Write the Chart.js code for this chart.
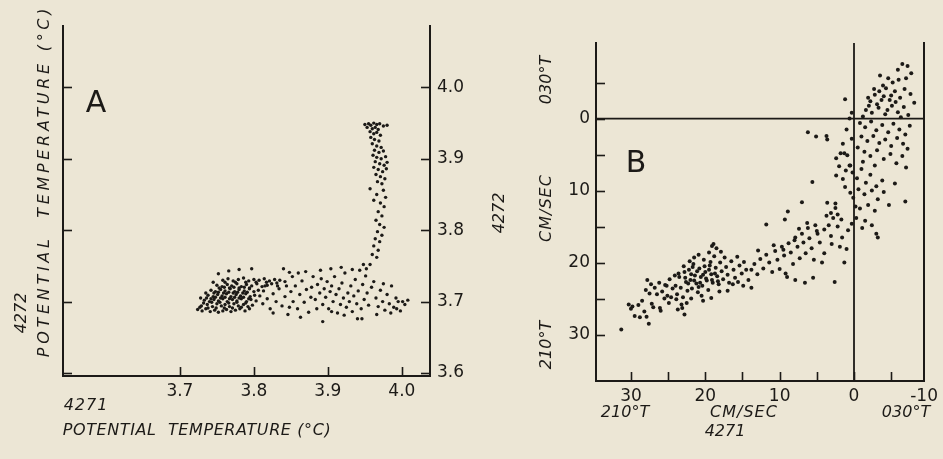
<!DOCTYPE html>
<html>
<head>
<meta charset="utf-8">
<script src="https://cdn.jsdelivr.net/npm/chart.js@4.4.0/dist/chart.umd.min.js"></script>
<style>
  html, body { margin: 0; padding: 0; }
  body { width: 943px; height: 459px; background: #ece6d5; position: relative; overflow: hidden;
         font-family: "DejaVu Sans", sans-serif; color: #1c1a17; }
  canvas { position: absolute; top: 0; }
  .t { position: absolute; white-space: nowrap; font-style: italic; font-size: 16px;
       transform: translate(-50%, -50%); }
  .r { transform: translate(-50%, -50%) rotate(-90deg); }
  .big { font-style: normal; font-size: 30px; }
</style>
</head>
<body>
<canvas id="chartA" width="480" height="459" style="left:0"></canvas>
<canvas id="chartB" width="463" height="459" style="left:480px"></canvas>

<div class="t big" style="left:96px;top:101px">A</div>
<div class="t r" style="left:20px;top:313px">4272</div>
<div class="t r" style="left:43px;top:181px;letter-spacing:3.7px">POTENTIAL&nbsp; TEMPERATURE (°C)</div>
<div class="t" style="left:86px;top:404px;letter-spacing:1px">4271</div>
<div class="t" style="left:197px;top:429px;letter-spacing:0.6px">POTENTIAL&nbsp; TEMPERATURE (°C)</div>

<div class="t big" style="left:636px;top:161px">B</div>
<div class="t r" style="left:498px;top:213px">4272</div>
<div class="t r" style="left:545px;top:345px">210°T</div>
<div class="t r" style="left:545px;top:208px;letter-spacing:1px">CM/SEC</div>
<div class="t r" style="left:545px;top:80px">030°T</div>
<div class="t" style="left:625px;top:411px">210°T</div>
<div class="t" style="left:744px;top:411px;letter-spacing:1px">CM/SEC</div>
<div class="t" style="left:906px;top:411px">030°T</div>
<div class="t" style="left:725px;top:430px">4271</div>

<script>
// panel A : potential temperature 4271 (x) vs 4272 (y), deg C
const aBand = [
  [3.724,3.689],[3.730,3.687],[3.735,3.690],[3.741,3.686],[3.747,3.688],[3.752,3.685],[3.758,3.687],[3.763,3.689],[3.769,3.686],[3.775,3.688],[3.781,3.690],[3.788,3.687],
  [3.729,3.694],[3.737,3.696],[3.744,3.693],[3.750,3.697],[3.756,3.694],[3.761,3.696],[3.767,3.693],[3.773,3.697],[3.779,3.694],[3.786,3.696],[3.792,3.693],[3.798,3.695],
  [3.733,3.702],[3.740,3.700],[3.746,3.703],[3.752,3.701],[3.758,3.704],[3.764,3.700],[3.771,3.703],[3.777,3.701],[3.783,3.704],[3.790,3.700],[3.796,3.703],[3.803,3.701],
  [3.738,3.709],[3.745,3.707],[3.751,3.710],[3.757,3.708],[3.763,3.711],[3.769,3.707],[3.776,3.710],[3.782,3.708],[3.789,3.711],[3.795,3.707],[3.801,3.709],[3.808,3.708],
  [3.742,3.716],[3.748,3.714],[3.755,3.717],[3.761,3.715],[3.768,3.718],[3.774,3.714],[3.780,3.717],[3.787,3.715],[3.794,3.718],[3.800,3.714],[3.806,3.716],[3.813,3.715],
  [3.750,3.723],[3.757,3.721],[3.764,3.724],[3.770,3.722],[3.777,3.725],[3.783,3.721],[3.790,3.724],[3.797,3.722],[3.804,3.725],[3.811,3.721],[3.818,3.723],
  [3.758,3.730],[3.765,3.732],[3.772,3.729],[3.779,3.731],[3.786,3.733],[3.793,3.729],[3.800,3.731],[3.807,3.730],[3.814,3.732],[3.821,3.729],[3.828,3.731],[3.835,3.730],[3.842,3.728],
  [3.752,3.739],[3.766,3.743],[3.780,3.745],[3.797,3.746],[3.840,3.746],[3.848,3.741],[3.745,3.727],[3.735,3.712],[3.728,3.705],
  [3.812,3.697],[3.818,3.704],[3.822,3.690],[3.826,3.711],[3.830,3.700],[3.834,3.718],[3.838,3.694],[3.842,3.707],[3.846,3.682],[3.850,3.714],
  [3.853,3.700],[3.856,3.722],[3.859,3.690],[3.862,3.710],[3.865,3.729],[3.868,3.699],[3.871,3.717],[3.874,3.685],[3.877,3.706],[3.880,3.735],
  [3.815,3.722],[3.824,3.725],[3.832,3.722],[3.844,3.722],[3.852,3.735],[3.860,3.740],[3.870,3.742],[3.826,3.684],[3.848,3.692],[3.863,3.678],[3.878,3.720],
  [3.883,3.703],[3.886,3.724],[3.889,3.712],[3.891,3.732],[3.893,3.696],[3.895,3.718],[3.897,3.706],[3.899,3.728],[3.901,3.690],[3.903,3.714],
  [3.905,3.722],[3.907,3.700],[3.909,3.735],[3.911,3.710],[3.913,3.684],[3.915,3.718],[3.917,3.696],[3.919,3.726],[3.921,3.705],[3.923,3.740],
  [3.925,3.692],[3.927,3.712],[3.929,3.700],[3.931,3.722],[3.933,3.686],[3.935,3.708],[3.937,3.731],[3.939,3.697],[3.941,3.715],[3.943,3.744],
  [3.945,3.690],[3.947,3.724],[3.949,3.703],[3.951,3.736],[3.953,3.712],[3.955,3.695],[3.957,3.752],[3.959,3.720],
  [3.890,3.744],[3.904,3.746],[3.918,3.748],[3.933,3.745],[3.948,3.752],[3.952,3.746],[3.893,3.672],[3.940,3.676],[3.946,3.676],[3.905,3.686],[3.922,3.681],[3.885,3.690],
  [3.962,3.728],[3.965,3.705],[3.968,3.693],[3.971,3.716],[3.974,3.700],[3.977,3.688],[3.980,3.710],[3.983,3.697],[3.986,3.722],[3.989,3.692],
  [3.992,3.705],[3.995,3.700],[3.998,3.687],[4.001,3.700],[4.004,3.696],[4.008,3.702],[3.985,3.684],[3.993,3.690],[3.966,3.682],[3.975,3.725]
];
// the near-solid left end of the band
const aBandDense = [
  [3.727,3.692],[3.732,3.698],[3.738,3.691],[3.743,3.699],[3.749,3.691],[3.754,3.699],[3.760,3.691],[3.766,3.698],[3.771,3.691],[3.777,3.699],[3.783,3.692],[3.789,3.698],[3.794,3.690],
  [3.736,3.705],[3.742,3.704],[3.748,3.706],[3.755,3.705],[3.761,3.706],[3.767,3.704],[3.774,3.706],[3.780,3.705],[3.786,3.706],[3.793,3.704],
  [3.746,3.712],[3.752,3.713],[3.759,3.712],[3.766,3.713],[3.772,3.712],[3.778,3.713],[3.785,3.712],[3.791,3.713],
  [3.753,3.719],[3.760,3.720],[3.767,3.719],[3.773,3.720],[3.780,3.719],[3.787,3.720],[3.794,3.719],
  [3.761,3.727],[3.775,3.727],[3.789,3.727],[3.803,3.727],[3.817,3.727],[3.831,3.726]
];
const aColumn = [
  [3.950,3.948],[3.955,3.949],[3.958,3.947],[3.962,3.950],[3.966,3.948],[3.970,3.949],[3.975,3.946],[3.980,3.947],
  [3.953,3.944],[3.960,3.942],[3.964,3.944],[3.968,3.941],[3.957,3.938],[3.962,3.935],[3.966,3.937],[3.971,3.933],
  [3.958,3.930],[3.963,3.927],[3.969,3.925],[3.960,3.921],[3.966,3.918],[3.972,3.916],[3.963,3.912],[3.969,3.909],[3.975,3.911],
  [3.961,3.905],[3.966,3.902],[3.972,3.900],[3.978,3.903],[3.964,3.896],[3.970,3.893],[3.976,3.891],[3.980,3.895],
  [3.962,3.888],[3.968,3.885],[3.974,3.882],[3.979,3.886],[3.965,3.878],[3.971,3.875],[3.977,3.872],[3.967,3.868],[3.973,3.865],
  [3.957,3.858],[3.975,3.856],[3.966,3.850],[3.978,3.846],[3.962,3.842],[3.971,3.838],[3.976,3.833],[3.968,3.826],[3.973,3.820],
  [3.965,3.814],[3.970,3.808],[3.976,3.804],[3.967,3.798],[3.973,3.793],[3.964,3.788],[3.970,3.784],[3.962,3.778],[3.968,3.772],
  [3.960,3.766],[3.966,3.762]
];
const aTicks = [3.6, 3.7, 3.8, 3.9, 4.0];
const aXLabels = [3.7, 3.8, 3.9, 4.0];

// panel B : current speed 4271 (x) vs 4272 (y), cm/sec
const bSouthwest = [
  [31.3,29.3],[30.3,25.8],[29.8,26.1],[29.0,25.9],[30.0,26.4],[29.5,27.4],[28.8,27.6],[28.5,25.3],[28.2,26.8],[27.9,27.5],
  [27.6,28.5],[27.5,24.3],[27.2,25.7],[27.0,26.2],[27.8,22.4],[27.3,23.0],[26.8,23.5],[26.5,24.4],[26.2,22.8],[25.8,24.0],
  [25.4,23.1],[25.1,24.6],[24.8,22.3],[24.4,23.6],[24.1,21.8],[26.0,26.7],[25.5,25.0],[28.0,23.8],[23.7,26.5],[22.8,27.2],
  [23.2,25.8],[26.1,26.3],
  [24.0,23.2],[23.8,24.4],[23.5,22.0],[23.3,23.5],[23.0,24.8],[22.8,21.3],[22.6,22.7],[22.4,23.9],[22.2,21.0],[22.0,22.4],
  [21.8,23.6],[21.6,20.2],[21.4,21.8],[21.2,22.9],[21.0,24.1],[20.8,20.8],[20.6,22.0],[20.4,23.2],[20.2,19.6],[20.0,21.3],
  [19.8,22.5],[19.6,23.8],[19.4,20.4],[19.2,21.6],[19.0,22.8],[18.8,19.1],[18.6,20.7],[18.4,21.9],[18.2,23.0],[18.0,20.0],
  [17.8,21.2],[17.6,22.3],[17.4,19.3],[17.2,20.6],[17.0,21.7],[16.8,22.8],[16.5,19.8],[16.2,21.0],[16.0,22.1],[15.7,19.2],
  [15.4,20.4],[15.1,21.5],[14.8,19.9],[14.5,21.0],[14.2,22.4],
  [23.6,21.5],[22.9,20.5],[22.1,19.8],[21.5,19.3],[20.9,18.9],[19.5,18.6],[18.9,17.4],[18.5,18.0],[17.9,18.5],[19.1,17.7],
  [21.9,25.0],[20.5,24.6],[19.2,24.9],[23.1,26.3],[22.5,25.6],[20.3,25.3],[18.1,24.0],[17.0,23.9],[16.3,23.0],[15.6,22.7],
  [14.9,23.2],[13.8,23.5],[24.6,24.8],[24.9,25.6],[25.2,23.2],[23.9,25.1],
  [22.7,22.1],[22.3,22.9],[21.9,21.6],[21.5,22.5],[21.1,21.2],[20.7,22.8],[20.3,21.7],[19.9,22.2],[19.5,21.0],[19.1,22.4],
  [18.7,21.5],[18.3,22.6],[20.1,20.5],[20.9,23.4],[21.7,20.6],[19.3,19.9]
];
const bMiddle = [
  [13.8,21.0],[13.4,20.2],[13.0,21.6],[12.6,19.5],[12.2,20.8],[11.8,18.9],[11.8,14.7],[11.4,20.0],[11.0,21.3],[10.6,18.4],
  [10.3,19.6],[10.0,20.9],[9.7,17.8],[9.4,19.0],[9.2,21.5],[9.0,22.0],[8.8,17.3],[8.5,18.6],[8.2,20.2],[7.9,16.5],
  [7.6,17.8],[7.3,19.4],[7.0,16.0],[6.8,17.2],[6.5,18.7],[6.2,15.2],[6.0,16.6],[5.7,18.0],[5.4,19.6],[5.2,14.8],
  [4.9,16.0],[4.6,17.2],[4.3,20.0],[4.0,15.4],[3.7,13.5],[3.4,14.8],[3.1,16.3],[2.8,13.8],[2.5,12.4],[2.2,15.0],
  [1.9,17.8],[1.6,16.5],[1.3,20.0],[2.6,22.7],[6.6,22.8],[5.5,22.1],[7.9,22.4],[9.3,14.0],[7.0,11.6],[8.9,12.9],
  [3.6,11.7],[2.5,11.8],[3.1,13.1],[2.2,13.3],[1.7,14.0],[9.5,18.2],[10.8,17.6],[12.9,18.3],[4.0,18.7],[5.0,15.6],
  [6.3,14.5],[7.4,15.3],[8.0,16.9],[3.0,17.4],[1.0,18.1],[0.8,15.5],[5.6,8.8]
];
const bNortheast = [
  [-3.5,-6.0],[-5.9,-6.8],[-7.2,-7.3],[-7.7,-6.3],[-6.5,-7.6],[-5.2,-5.0],[-4.6,-5.6],[-3.9,-4.6],[-2.8,-3.3],[-2.2,-2.4],
  [-3.1,-2.0],[-4.0,-3.1],[-4.8,-2.6],[-5.5,-3.8],[-6.2,-2.9],[-6.8,-4.1],[-7.6,-3.4],[-8.1,-2.2],[-1.6,-1.2],[-2.4,-0.8],
  [-3.3,-1.5],[-4.2,-0.6],[-5.1,-1.8],[-5.9,-0.9],[-6.7,-1.6],[-7.3,-0.5],[-1.2,-0.3],[-2.0,-1.8],[-3.7,-2.6],[-4.5,-1.2],
  [-5.6,-2.3],[-6.3,-0.2],[-2.7,-4.1],[-3.4,-3.8],[-4.3,-4.2],[-5.0,-3.2],[-1.9,-2.9],[-6.0,-5.4],[-7.0,-5.6],[1.2,-2.7],
  [-0.8,0.6],[-1.5,1.2],[-2.3,0.4],[-3.0,1.6],[-3.8,0.9],[-4.6,1.9],[-5.3,0.7],[-6.1,1.5],[-6.9,2.2],[-7.5,1.0],
  [-1.0,2.5],[-1.8,3.1],[-2.6,2.4],[-3.4,3.4],[-4.2,2.9],[-5.0,3.8],[-5.8,2.7],[-6.6,3.5],[-7.2,4.2],[-0.5,4.0],
  [-1.4,4.6],[-2.2,5.2],[-3.1,4.4],[-4.0,5.6],[-4.9,4.9],[-5.7,6.2],[-6.5,5.2],[-7.0,6.8],[-2.8,6.5],[-1.2,6.0],
  [0.6,6.5],[0.2,7.5],[-0.4,8.3],[-1.0,7.0],[-1.6,8.9],[-2.2,7.8],[-3.0,9.4],[-3.8,8.6],[-0.6,9.8],[-1.4,10.5],
  [-2.4,10.0],[-3.2,11.2],[-4.0,10.2],[-1.9,12.0],[-0.8,12.5],[-2.8,12.8],[-0.3,13.8],[-1.5,14.2],[-1.1,15.2],[0.3,14.6],
  [-4.7,12.0],[-5.5,9.0],[-6.9,11.5],[-3.0,16.0],[-3.2,16.5],[-2.4,14.8],[0.1,11.0],[1.2,9.5],[0.5,10.3],[-0.2,12.2],
  [6.2,1.9],[5.1,2.5],[3.7,2.4],[3.6,2.9],[2.4,5.5],[1.8,4.8],[0.9,5.1],[2.4,7.9],[1.5,8.4],[0.5,6.5],
  [1.3,4.8],[0.3,2.8],[1.0,1.5],[0.6,0.0],[0.3,-0.8],[1.5,3.5],[2.0,6.6],[1.1,7.2]
];
const bXLabels = [30, 20, 10, 0];
const bXMinor = [30, 25, 20, 15, 10, 5, 0, -5];
const bYLabels = [0, 10, 20, 30];
const bYMinor = [-5, 0, 5, 10, 15, 20, 25, 30];

const ink = '#1c1a17';
const tickFont = { family: 'DejaVu Sans', size: 17 };
const noGrid = { display: false, drawTicks: false };

function fixedTicks(values) {
    return scale => { scale.ticks = values.map(v => ({ value: v })); };
}

// short tick marks drawn inside the frame, plus zero reference lines
const innerMarks = {
    id: 'innerMarks',
    afterDraw(chart, args, opts) {
        const ctx = chart.ctx;
        const area = chart.chartArea;
        ctx.save();
        ctx.strokeStyle = ink;
        ctx.lineWidth = 1.6;
        (opts.marks || []).forEach(m => {
            const s = chart.scales[m.scale];
            m.values.forEach(v => {
                const p = Math.round(s.getPixelForValue(v)) + 0.5;
                ctx.beginPath();
                if (m.side === 'bottom') { ctx.moveTo(p, area.bottom); ctx.lineTo(p, area.bottom - 9); }
                if (m.side === 'left') { ctx.moveTo(area.left, p); ctx.lineTo(area.left + 9, p); }
                if (m.side === 'right') { ctx.moveTo(area.right, p); ctx.lineTo(area.right - 9, p); }
                ctx.stroke();
            });
        });
        if (opts.zero) {
            const x0 = chart.scales.x.getPixelForValue(0);
            const y0 = chart.scales.y.getPixelForValue(0);
            ctx.lineWidth = 1.8;
            ctx.beginPath();
            ctx.moveTo(x0, area.top); ctx.lineTo(x0, area.bottom);
            ctx.moveTo(area.left, y0); ctx.lineTo(area.right, y0);
            ctx.stroke();
        }
        ctx.restore();
    }
};

Chart.defaults.font.family = 'DejaVu Sans';
Chart.defaults.color = ink;

new Chart(document.getElementById('chartA'), {
    type: 'scatter',
    data: {
        datasets: [
            { data: aBand, pointRadius: 1.7, backgroundColor: ink, borderWidth: 0 },
            { data: aBandDense, pointRadius: 1.7, backgroundColor: ink, borderWidth: 0 },
            { data: aColumn, pointRadius: 1.7, backgroundColor: ink, borderWidth: 0 }
        ]
    },
    options: {
        responsive: false,
        animation: false,
        layout: { padding: { left: 63, right: 0, top: 26, bottom: 43 } },
        plugins: {
            legend: { display: false },
            tooltip: { enabled: false },
            innerMarks: {
                marks: [
                    { scale: 'x', side: 'bottom', values: aXLabels },
                    { scale: 'y', side: 'left', values: aTicks },
                    { scale: 'y2', side: 'right', values: aTicks }
                ]
            }
        },
        scales: {
            x: {
                type: 'linear', position: 'bottom', min: 3.542, max: 4.038,
                afterBuildTicks: fixedTicks(aXLabels),
                afterFit: s => { s.height = 40; },
                grid: noGrid,
                border: { color: ink, width: 2 },
                ticks: { font: tickFont, color: ink, padding: 5, maxRotation: 0, autoSkip: false,
                         callback: v => v.toFixed(1) }
            },
            y: {
                type: 'linear', position: 'left', min: 3.5958, max: 4.086,
                afterBuildTicks: fixedTicks(aTicks),
                afterFit: s => { s.width = 0; },
                grid: noGrid,
                border: { color: ink, width: 2 },
                ticks: { display: false }
            },
            y2: {
                type: 'linear', position: 'right', min: 3.5958, max: 4.086,
                afterBuildTicks: fixedTicks(aTicks),
                afterFit: s => { s.width = 50; },
                grid: noGrid,
                border: { color: ink, width: 2 },
                ticks: { font: tickFont, color: ink, padding: 7, callback: v => v.toFixed(1) }
            }
        }
    },
    plugins: [innerMarks]
});

new Chart(document.getElementById('chartB'), {
    type: 'scatter',
    data: {
        datasets: [
            { data: bSouthwest, pointRadius: 2, backgroundColor: ink, borderWidth: 0 },
            { data: bMiddle, pointRadius: 2, backgroundColor: ink, borderWidth: 0 },
            { data: bNortheast, pointRadius: 2, backgroundColor: ink, borderWidth: 0 }
        ]
    },
    options: {
        responsive: false,
        animation: false,
        layout: { padding: { left: 0, right: 11, top: 43, bottom: 38 } },
        plugins: {
            legend: { display: false },
            tooltip: { enabled: false },
            innerMarks: {
                zero: true,
                marks: [
                    { scale: 'x', side: 'bottom', values: bXMinor },
                    { scale: 'y', side: 'left', values: bYMinor }
                ]
            }
        },
        scales: {
            x: {
                type: 'linear', position: 'bottom', reverse: true, min: -9.43, max: 34.7,
                afterBuildTicks: fixedTicks(bXLabels.concat([-9.43])),
                afterFit: s => { s.height = 40; },
                grid: noGrid,
                border: { color: ink, width: 2 },
                ticks: { font: tickFont, color: ink, padding: 5, maxRotation: 0, autoSkip: false,
                         callback: v => (v < -9 ? '-10' : String(v)) }
            },
            y: {
                type: 'linear', position: 'left', reverse: true, min: -10.5, max: 36.44,
                afterBuildTicks: fixedTicks(bYLabels),
                afterFit: s => { s.width = 116; },
                grid: noGrid,
                border: { color: ink, width: 2 },
                ticks: { font: tickFont, color: ink, padding: 6 }
            },
            y2: {
                type: 'linear', position: 'right', min: -10.5, max: 36.44,
                afterFit: s => { s.width = 0; },
                grid: noGrid,
                border: { color: ink, width: 2 },
                ticks: { display: false }
            }
        }
    },
    plugins: [innerMarks]
});
</script>
</body>
</html>
